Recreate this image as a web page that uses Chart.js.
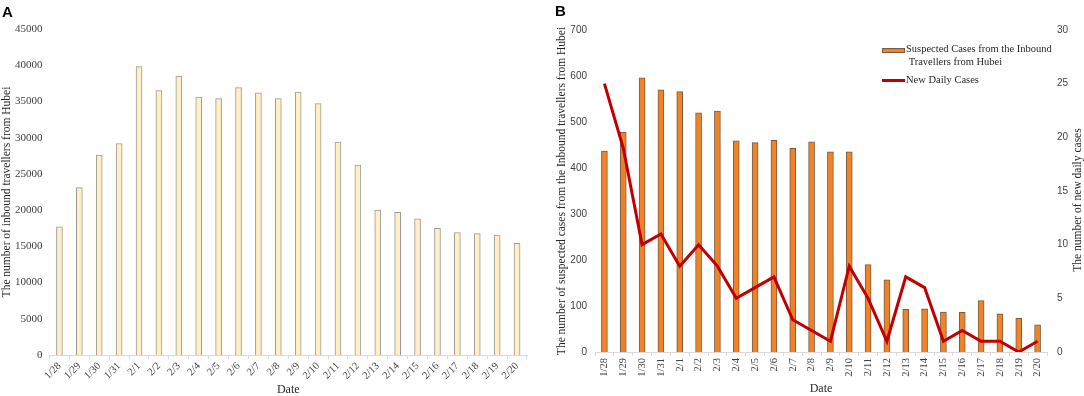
<!DOCTYPE html>
<html>
<head>
<meta charset="utf-8">
<script src="https://cdn.jsdelivr.net/npm/chart.js@4.4.0/dist/chart.umd.min.js"></script>
<style>
  body { margin: 0; background: #fff; width: 1084px; height: 396px; overflow: hidden; position: relative; }
  canvas { position: absolute; top: 0; }
  #chartA { left: 0; }
  #chartB { left: 540px; }
  .tag { position: absolute; font: bold 15px "Liberation Sans", Arial, sans-serif; color: #000; line-height: 1; }
  .legend { position: absolute; font: 10.5px "Liberation Serif", serif; color: #262626; line-height: 12.8px; white-space: nowrap; }
  .swatch { position: absolute; box-sizing: border-box; }
</style>
</head>
<body>
<canvas id="chartA" width="540" height="396"></canvas>
<canvas id="chartB" width="544" height="396"></canvas>

<div class="tag" style="left:2px; top:4px;">A</div>
<div class="tag" style="left:555px; top:3px;">B</div>

<div class="swatch" style="left:882px; top:48px; width:23px; height:5px; background:#F08228; border:1px solid #7B5A44;"></div>
<div class="legend" style="left:906px; top:43px;">Suspected Cases from the Inbound<br>&nbsp;Travellers from Hubei</div>
<div class="swatch" style="left:882px; top:79px; width:23px; height:3px; background:#C00000;"></div>
<div class="legend" style="left:906px; top:74px;">New Daily Cases</div>

<script>
const dates = ['1/28', '1/29', '1/30', '1/31', '2/1', '2/2', '2/3', '2/4', '2/5', '2/6', '2/7', '2/8',
               '2/9', '2/10', '2/11', '2/12', '2/13', '2/14', '2/15', '2/16', '2/17', '2/18', '2/19', '2/20'];

// panel A
const inboundTravellers = [17700, 23100, 27600, 29200, 39800, 36500, 38500, 35600, 35400, 36900, 36200, 35400,
                           36300, 34700, 29400, 26200, 20000, 19700, 18800, 17500, 16900, 16750, 16550, 15400];

// panel B
const suspectedCases = [437, 478, 596, 570, 566, 520, 524, 459, 455, 460, 443, 457,
                        435, 435, 190, 157, 93, 94, 87, 86, 112, 83, 73, 59];
const newDailyCases = [25, 19, 10, 11, 8, 10, 8, 5, 6, 7, 3, 2,
                       1, 8, 5, 1, 7, 6, 1, 2, 1, 1, 0, 1];

const serif = '"Liberation Serif", "Times New Roman", serif';
const sans = '"Liberation Sans", Arial, sans-serif';
const tickColor = '#404040';
const titleColor = '#262626';

function createChartA() {
    const ctx = document.getElementById('chartA').getContext('2d');
    new Chart(ctx, {
        type: 'bar',
        data: {
            labels: dates,
            datasets: [{
                data: inboundTravellers,
                backgroundColor: '#FFEFC2',
                borderColor: '#9A9A9A',
                borderWidth: 1,
                barThickness: 6
            }]
        },
        options: {
            responsive: false,
            animation: false,
            layout: { padding: { top: 29, right: 13, left: 0, bottom: 0 } },
            plugins: { legend: { display: false }, tooltip: { enabled: false } },
            scales: {
                x: {
                    grid: { drawOnChartArea: false, color: '#D9D9D9', tickLength: 4 },
                    border: { color: '#D9D9D9' },
                    ticks: {
                        autoSkip: false, minRotation: 45, maxRotation: 45, padding: 1,
                        color: tickColor, font: { family: serif, size: 10.5 }
                    },
                    title: {
                        display: true, text: 'Date', color: titleColor, padding: 0,
                        font: { family: serif, size: 12, lineHeight: 1 }
                    },
                    afterFit(scale) { scale.height = 41; }
                },
                y: {
                    min: 0, max: 45000,
                    grid: { display: false, drawTicks: false },
                    border: { display: false },
                    ticks: {
                        stepSize: 5000, padding: 7, color: tickColor,
                        font: { family: serif, size: 11 },
                        callback: v => String(v)
                    },
                    title: {
                        display: true, text: 'The number of inbound travellers from Hubei',
                        color: titleColor, padding: 0, font: { family: serif, size: 11.5 }
                    },
                    afterFit(scale) { scale.width = 49.5; }
                }
            }
        }
    });
}

// the right axis title reads bottom-to-top in the original, so draw it here
const rightTitle = {
    id: 'rightTitle',
    afterDraw(chart) {
        const s = chart.scales.y2;
        const c = chart.ctx;
        c.save();
        c.translate(s.right - 6, 200);
        c.rotate(-Math.PI / 2);
        c.font = '11.5px ' + serif;
        c.fillStyle = titleColor;
        c.textAlign = 'center';
        c.textBaseline = 'middle';
        c.fillText('The number of new daily cases', 0, 0);
        c.restore();
    }
};

function createChartB() {
    const ctx = document.getElementById('chartB').getContext('2d');
    new Chart(ctx, {
        type: 'bar',
        data: {
            labels: dates,
            datasets: [{
                type: 'line',
                label: 'New Daily Cases',
                data: newDailyCases,
                yAxisID: 'y2',
                borderColor: '#C00000',
                borderWidth: 3,
                pointRadius: 0,
                tension: 0,
                order: 0
            }, {
                type: 'bar',
                label: 'Suspected Cases from the Inbound Travellers from Hubei',
                data: suspectedCases,
                yAxisID: 'y',
                backgroundColor: '#F08228',
                borderColor: '#7B5A44',
                borderWidth: 1,
                barThickness: 6,
                order: 1
            }]
        },
        options: {
            responsive: false,
            animation: false,
            layout: { padding: { top: 30, right: 0, left: 15, bottom: 0 } },
            plugins: { legend: { display: false }, tooltip: { enabled: false } },
            scales: {
                x: {
                    grid: { drawOnChartArea: false, color: '#D9D9D9', tickLength: 4 },
                    border: { color: '#D9D9D9' },
                    ticks: {
                        autoSkip: false, minRotation: 90, maxRotation: 90, padding: 2,
                        color: tickColor, font: { family: serif, size: 10.5 }
                    },
                    title: {
                        display: true, text: 'Date', color: titleColor, padding: 0,
                        font: { family: serif, size: 12 }
                    },
                    afterFit(scale) { scale.height = 44; }
                },
                y: {
                    min: 0, max: 700,
                    grid: { display: false, drawTicks: false },
                    border: { display: false },
                    ticks: { stepSize: 100, padding: 8, color: tickColor, font: { family: sans, size: 10 } },
                    title: {
                        display: true,
                        text: 'The number of suspected cases from the Inbound travellers from Hubei',
                        color: titleColor, padding: 0, font: { family: serif, size: 11.5 }
                    },
                    afterFit(scale) { scale.width = 40; }
                },
                y2: {
                    position: 'right',
                    min: 0, max: 30,
                    grid: { display: false, drawTicks: false },
                    border: { display: false },
                    ticks: { stepSize: 5, padding: 10, color: tickColor, font: { family: sans, size: 10 } },
                    afterFit(scale) { scale.width = 37; }
                }
            }
        },
        plugins: [rightTitle]
    });
}

createChartA();
createChartB();
</script>
</body>
</html>
